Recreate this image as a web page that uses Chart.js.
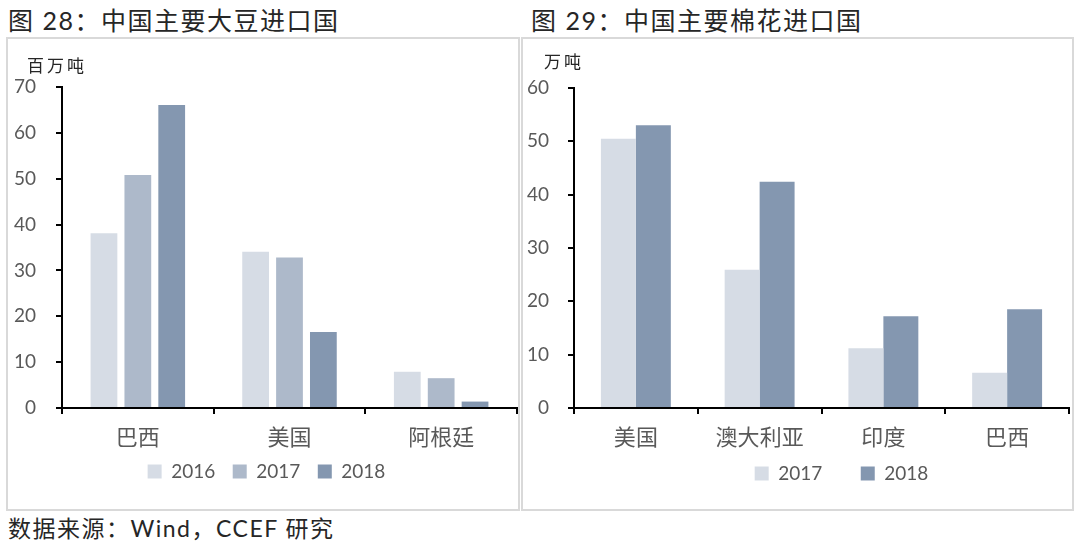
<!DOCTYPE html>
<html>
<head>
<meta charset="utf-8">
<script src="https://cdn.jsdelivr.net/npm/chart.js@4.4.1/dist/chart.umd.min.js"></script>
<style>
  body { margin: 0; background: #fff; width: 1080px; height: 545px; position: relative; overflow: hidden;
         font-family: Lato, 'Noto Sans CJK SC', sans-serif; }
  .title { position: absolute; top: 4px; font-size: 25px; line-height: 32px; letter-spacing: 1.5px; color: #262626; white-space: nowrap; }
  .panel { position: absolute; top: 37px; height: 474px; border: 2px solid #d9d9d9; box-sizing: border-box; }
  .panel canvas { position: absolute; left: 0; top: 0; }
  .unit { position: absolute; font-size: 17px; line-height: 20px; color: #262626; letter-spacing: 3px; white-space: nowrap; }
  .source { position: absolute; left: 8px; top: 514px; font-size: 23px; line-height: 28px; letter-spacing: 1.5px; color: #262626; white-space: nowrap; }
</style>
</head>
<body>
<div class="title" style="left:8px">图 28：中国主要大豆进口国</div>
<div class="title" style="left:531px">图 29：中国主要棉花进口国</div>

<div class="panel" style="left:6px; width:514px;">
  <canvas id="soyChart" width="510" height="470"></canvas>
</div>
<div class="panel" style="left:521px; width:553px;">
  <canvas id="cottonChart" width="549" height="470"></canvas>
</div>

<div class="unit" style="left:27px; top:56px;">百万吨</div>
<div class="unit" style="left:544px; top:52px;">万吨</div>
<div class="source">数据来源：Wind，CCEF 研究</div>

<script>
// data: soybean imports (million tonnes)
const soyCountries = ['巴西', '美国', '阿根廷'];
const soy2016 = [38.1, 34.1, 7.9];
const soy2017 = [50.8, 32.8, 6.5];
const soy2018 = [66.1, 16.6, 1.4];
const soyTicks = { min: 0, max: 70, step: 10 };

// data: cotton imports (10k tonnes)
const cottonCountries = ['美国', '澳大利亚', '印度', '巴西'];
const cotton2017 = [50.5, 25.9, 11.2, 6.6];
const cotton2018 = [53.0, 42.4, 17.2, 18.5];
const cottonTicks = { min: 0, max: 60, step: 10 };

const C2016 = '#d6dce5';
const C2017b = '#adb9ca';
const C2018 = '#8497b0';

Chart.defaults.font.family = "Lato, 'Noto Sans CJK SC', sans-serif";
Chart.defaults.color = '#595959';
Chart.defaults.animation = false;

// nudge the legend sideways (Excel places it off-centre)
const legendShift = {
    id: 'legendShift',
    afterLayout(chart, args, opts) {
        const lg = chart.legend;
        if (lg && opts.dx) { lg.left += opts.dx; lg.right += opts.dx; }
    }
};

// extra gap between legend items without touching vertical padding
function spacedLabels(gap) {
    return (chart) => Chart.defaults.plugins.legend.labels.generateLabels(chart).map((it, i, arr) => {
        if (i < arr.length - 1) it.text += gap;
        return it;
    });
}

function axes(range, yWidth, yPad) {
    return {
        x: {
            grid: { display: true, drawOnChartArea: false, offset: true, color: '#000', lineWidth: 2, tickLength: 6 },
            border: { display: true, color: '#000', width: 2 },
            ticks: { font: { size: 22 }, padding: 11, color: '#595959', autoSkip: false, maxRotation: 0 },
            afterFit: (s) => { s.height = 46; }
        },
        y: {
            min: range.min, max: range.max,
            grid: { display: true, drawOnChartArea: false, color: '#000', lineWidth: 2, tickLength: 6 },
            border: { display: true, color: '#000', width: 2 },
            ticks: { stepSize: range.step, font: { size: 19 }, padding: yPad, color: '#595959' },
            afterFit: (s) => { s.width = yWidth; }
        }
    };
}

// 1. Soybean chart
new Chart(document.getElementById('soyChart'), {
    type: 'bar',
    data: {
        labels: soyCountries,
        datasets: [
            { label: '2016', data: soy2016, backgroundColor: C2016 },
            { label: '2017', data: soy2017, backgroundColor: C2017b },
            { label: '2018', data: soy2018, backgroundColor: C2018 }
        ]
    },
    options: {
        responsive: false,
        categoryPercentage: 0.67,
        barPercentage: 0.79,
        layout: { padding: { top: 48, left: 0, right: 1, bottom: 18 } },
        plugins: {
            tooltip: { enabled: false },
            legendShift: { dx: 4 },
            legend: {
                position: 'bottom',
                labels: {
                    boxWidth: 14, boxHeight: 14, padding: 8, font: { size: 19 }, color: '#595959',
                    generateLabels: spacedLabels('\u2002')
                }
            }
        },
        scales: axes(soyTicks, 54, 20)
    },
    plugins: [legendShift]
});

// 2. Cotton chart
new Chart(document.getElementById('cottonChart'), {
    type: 'bar',
    data: {
        labels: cottonCountries,
        datasets: [
            { label: '2017', data: cotton2017, backgroundColor: C2016 },
            { label: '2018', data: cotton2018, backgroundColor: C2018 }
        ]
    },
    options: {
        responsive: false,
        categoryPercentage: 0.565,
        barPercentage: 1.0,
        layout: { padding: { top: 49, left: 0, right: 3, bottom: 16 } },
        plugins: {
            tooltip: { enabled: false },
            legendShift: { dx: 20 },
            legend: {
                position: 'bottom',
                fullSize: false,
                labels: {
                    boxWidth: 14, boxHeight: 14, padding: 10, font: { size: 19 }, color: '#595959',
                    generateLabels: spacedLabels('\u2003\u2003')
                }
            }
        },
        scales: axes(cottonTicks, 51, 19)
    },
    plugins: [legendShift]
});
</script>
</body>
</html>
